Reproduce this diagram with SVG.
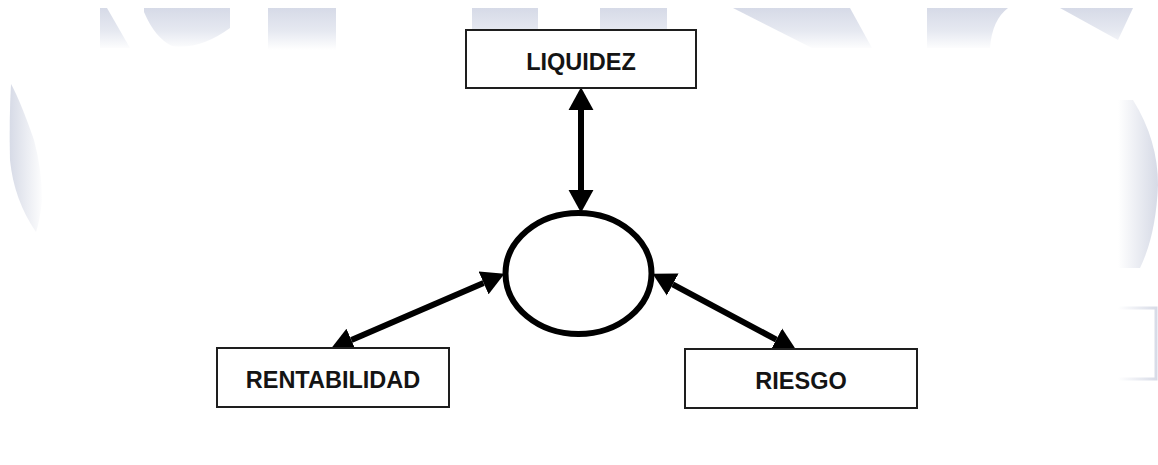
<svg xmlns="http://www.w3.org/2000/svg" width="1158" height="465" viewBox="0 0 1158 465">
  <defs>
    <style>
      .box { fill: #ffffff; stroke: #1e1e1e; stroke-width: 2; }
      .lbl { font-family: "Liberation Sans", Arial, sans-serif; font-weight: bold; font-size: 23.5px; fill: #141414; text-anchor: middle; }
      .conn { fill: none; stroke: #000; stroke-width: 6; marker-start: url(#head); marker-end: url(#head); }
      .wm { fill: url(#fadeDown); }
    </style>
    <marker id="head" markerUnits="userSpaceOnUse" markerWidth="24" markerHeight="26" viewBox="0 -12 22 24" refX="0" refY="0" orient="auto-start-reverse">
      <path d="M0,-11.5 L21,0 L0,11.5 Z" fill="#000"/>
    </marker>
    <linearGradient id="fadeDown" gradientUnits="userSpaceOnUse" x1="0" y1="8" x2="0" y2="50">
      <stop offset="0" stop-color="#d6dae7"/>
      <stop offset="0.55" stop-color="#e6e9f1"/>
      <stop offset="1" stop-color="#ffffff"/>
    </linearGradient>
    <linearGradient id="fadeRight" gradientUnits="userSpaceOnUse" x1="9" y1="0" x2="44" y2="0">
      <stop offset="0" stop-color="#d6dae6"/>
      <stop offset="1" stop-color="#ffffff"/>
    </linearGradient>
    <linearGradient id="fadeLeft" gradientUnits="userSpaceOnUse" x1="1158" y1="0" x2="1118" y2="0">
      <stop offset="0" stop-color="#d6dae6"/>
      <stop offset="1" stop-color="#ffffff"/>
    </linearGradient>
  </defs>

  <rect x="0" y="0" width="1158" height="465" fill="#ffffff"/>

  <g id="watermark">
    <polygon class="wm" points="100,8 107,8 130,48 100,48"/>
    <path class="wm" d="M144,8 L230,8 L230,28 Q200,50 172,46 Q155,38 144,12 Z"/>
    <rect class="wm" x="268" y="8" width="68" height="42"/>
    <rect class="wm" x="472" y="8" width="66" height="42"/>
    <rect class="wm" x="600" y="8" width="67" height="42"/>
    <polygon class="wm" points="733,8 850,8 872,48 812,48"/>
    <path class="wm" d="M927,8 L1008,8 Q992,20 990,48 L927,48 Z"/>
    <polygon class="wm" points="1060,8 1133,8 1118,40"/>
    <path fill="url(#fadeRight)" d="M11,84 Q20,100 34,140 Q42,170 42,200 Q40,220 36,232 Q14,200 10,160 Q9,120 11,84 Z"/>
    <path fill="url(#fadeLeft)" d="M1133,100 Q1158,140 1158,185 Q1156,235 1140,268 L1118,268 L1118,100 Z"/>
    <path fill="none" stroke="url(#fadeLeft)" stroke-width="3" d="M1117,308 L1156,308 L1156,379 L1117,379"/>
  </g>

  <g id="connectors">
    <path class="conn" d="M581,110 L581,190"/>
    <path class="conn" d="M483.6,282.9 L351.4,340.1"/>
    <path class="conn" d="M672.7,284.4 L776.3,339.6"/>
  </g>

  <g id="center">
    <ellipse cx="578.5" cy="273.5" rx="73" ry="60.5" fill="#ffffff" stroke="#000" stroke-width="6"/>
  </g>

  <g id="liquidez">
    <rect class="box" x="466" y="30" width="230" height="58"/>
    <text class="lbl" x="581" y="70">LIQUIDEZ</text>
  </g>

  <g id="rentabilidad">
    <rect class="box" x="217" y="348" width="232" height="59"/>
    <text class="lbl" x="333" y="388">RENTABILIDAD</text>
  </g>

  <g id="riesgo">
    <rect class="box" x="685" y="349" width="232" height="59"/>
    <text class="lbl" x="801" y="389">RIESGO</text>
  </g>
</svg>
